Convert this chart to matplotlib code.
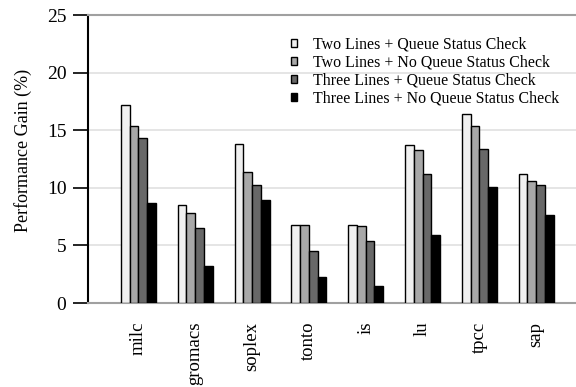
import numpy as np
import matplotlib
matplotlib.use("Agg")
import matplotlib.pyplot as plt

plt.rcParams['font.family'] = ['Liberation Serif', 'DejaVu Serif']

benchmarks = ["milc", "gromacs", "soplex", "tonto", "is", "lu", "tpcc", "sap"]
series_names = [
    "Two Lines + Queue Status Check",
    "Two Lines + No Queue Status Check",
    "Three Lines + Queue Status Check",
    "Three Lines + No Queue Status Check",
]
two_q = [17.2, 8.5, 13.8, 6.8, 6.8, 13.7, 16.4, 11.2]
two_noq = [15.4, 7.8, 11.4, 6.8, 6.7, 13.3, 15.4, 10.6]
three_q = [14.3, 6.5, 10.2, 4.5, 5.4, 11.2, 13.4, 10.2]
three_noq = [8.7, 3.2, 8.9, 2.3, 1.5, 5.9, 10.1, 7.6]
colors = ["#f0f0f0", "#a8a8a8", "#686868", "#000000"]

fig = plt.figure(figsize=(5.76, 3.87), dpi=100)
ax = fig.add_axes([88 / 576, 1 - 303 / 387, 1 - 88 / 576, 288 / 387])

x = np.arange(len(benchmarks))
w = 0.154
for i, (vals, name) in enumerate(zip([two_q, two_noq, three_q, three_noq], series_names)):
    ax.bar(x + (i - 1.5) * w, vals, w, color=colors[i], edgecolor="black",
           linewidth=1.0, label=name, zorder=3)

ax.set_ylim(0, 25)
ax.set_xlim(-0.886, 7.70)
ax.set_yticks([0, 5, 10, 15, 20, 25])
ax.yaxis.grid(True, color="#e0e0e0", linewidth=1.2, zorder=0)
ax.set_axisbelow(True)

ax.set_xticks(x)
ax.set_xticklabels(benchmarks, rotation=90, fontsize=13.5)
ax.tick_params(axis="x", length=0, pad=13.5)
ax.tick_params(axis="y", length=10.5, width=1.2, labelsize=14, pad=5)

ax.spines["right"].set_visible(False)
for s in ["top", "bottom"]:
    ax.spines[s].set_color("#a0a0a0")
    ax.spines[s].set_linewidth(1.5)
ax.spines["left"].set_linewidth(1.5)

ax.set_ylabel("Performance Gain (%)", fontsize=13)
ax.yaxis.set_label_coords(-0.115, 0.53)

ax.legend(loc="upper left", bbox_to_anchor=(0.415, 0.925), frameon=False,
          fontsize=11.4, handlelength=0.42, handleheight=0.42, handletextpad=1.0,
          labelspacing=0.13, borderpad=0, borderaxespad=0)

fig.savefig("out.png", dpi=100)
